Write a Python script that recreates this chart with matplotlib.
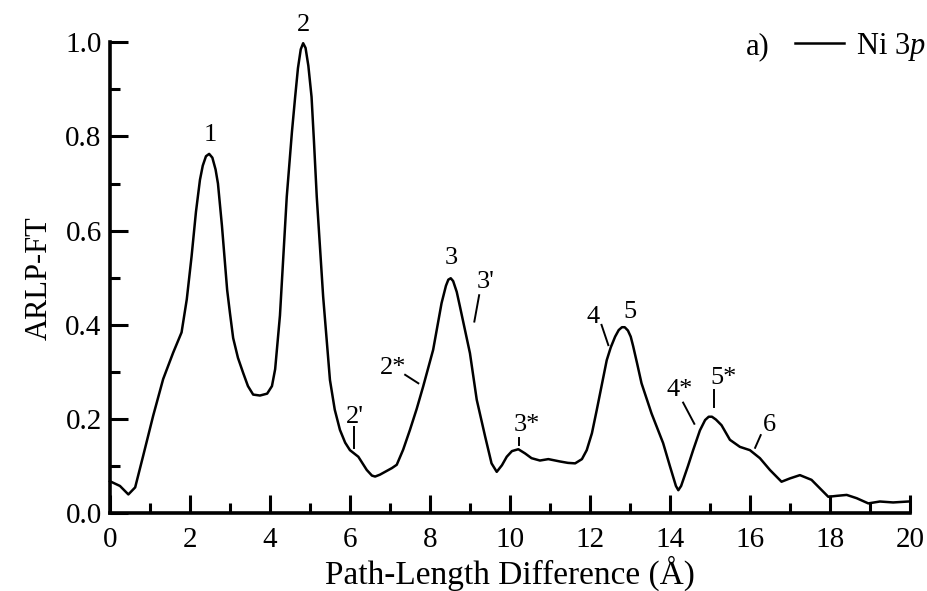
import numpy as np
import matplotlib
matplotlib.use("Agg")
from matplotlib import pyplot as plt
from matplotlib.ticker import MultipleLocator, FormatStrFormatter

plt.rcParams['font.family'] = ['Liberation Serif', 'DejaVu Serif']
plt.rcParams['mathtext.fontset'] = 'custom'
plt.rcParams['mathtext.rm'] = 'Liberation Serif'
plt.rcParams['mathtext.it'] = 'Liberation Serif:italic'

# curve (path-length difference in A, ARLP-FT)
path_len = [0.0, 0.25, 0.46, 0.63, 0.83, 1.08, 1.33, 1.58, 1.79, 1.92,
            2.04, 2.15, 2.25, 2.32, 2.40, 2.48, 2.56, 2.64, 2.70, 2.80,
            2.93, 3.00, 3.08, 3.20, 3.33, 3.45, 3.58, 3.75, 3.93, 4.05,
            4.13, 4.25, 4.42, 4.55, 4.63, 4.70, 4.77, 4.83, 4.89, 4.96,
            5.04, 5.10, 5.17, 5.33, 5.50, 5.62, 5.75, 5.88, 6.00, 6.21,
            6.42, 6.55, 6.63, 6.75, 6.88, 7.05, 7.17, 7.33, 7.50, 7.67,
            7.83, 8.08, 8.29, 8.40, 8.46, 8.52, 8.58, 8.67, 8.75, 9.00,
            9.17, 9.38, 9.54, 9.67, 9.80, 9.92, 10.05, 10.21, 10.38, 10.54,
            10.75, 10.96, 11.25, 11.45, 11.63, 11.80, 11.92, 12.05, 12.17, 12.42,
            12.52, 12.63, 12.72, 12.80, 12.87, 12.95, 13.02, 13.08, 13.18, 13.29,
            13.54, 13.83, 14.00, 14.08, 14.15, 14.21, 14.28, 14.45, 14.58, 14.75,
            14.88, 14.97, 15.05, 15.15, 15.29, 15.50, 15.75, 16.00, 16.25, 16.50,
            16.79, 17.00, 17.25, 17.54, 17.75, 17.96, 18.17, 18.42, 18.67, 18.96,
            19.25, 19.58, 19.96]
arlp_ft = [0.068, 0.058, 0.040, 0.055, 0.122, 0.207, 0.285, 0.341, 0.384, 0.454,
           0.545, 0.640, 0.708, 0.738, 0.758, 0.763, 0.755, 0.730, 0.700, 0.610,
           0.474, 0.425, 0.372, 0.330, 0.298, 0.270, 0.252, 0.250, 0.254, 0.270,
           0.306, 0.420, 0.672, 0.810, 0.884, 0.945, 0.985, 0.998, 0.988, 0.950,
           0.884, 0.790, 0.672, 0.460, 0.283, 0.220, 0.177, 0.150, 0.134, 0.120,
           0.092, 0.080, 0.078, 0.082, 0.088, 0.096, 0.103, 0.135, 0.177, 0.222,
           0.269, 0.347, 0.446, 0.483, 0.496, 0.499, 0.493, 0.470, 0.439, 0.340,
           0.241, 0.163, 0.106, 0.088, 0.102, 0.120, 0.132, 0.136, 0.127, 0.117,
           0.112, 0.115, 0.110, 0.107, 0.106, 0.115, 0.134, 0.170, 0.219, 0.325,
           0.352, 0.375, 0.389, 0.395, 0.395, 0.388, 0.375, 0.355, 0.318, 0.276,
           0.212, 0.149, 0.100, 0.078, 0.058, 0.049, 0.058, 0.100, 0.134, 0.176,
           0.198, 0.205, 0.205, 0.199, 0.187, 0.156, 0.141, 0.134, 0.117, 0.092,
           0.067, 0.074, 0.081, 0.071, 0.053, 0.035, 0.037, 0.039, 0.032, 0.021,
           0.025, 0.023, 0.025]

# peak labels: text, text position, marker line (x0, y0, x1, y1) or None
peak_labels = ['1', '2', '2\'', '2*', '3', '3\'', '3*', '4', '5', '4*', '5*', '6']
label_x = [2.50, 4.83, 6.13, 7.08, 8.53, 9.38, 10.42, 12.07, 13.00, 14.25, 15.33, 16.50]
label_y = [0.803, 1.037, 0.205, 0.308, 0.543, 0.492, 0.187, 0.417, 0.428, 0.262, 0.287, 0.187]
marker_lines = [None, None,
                (6.11, 0.184, 6.11, 0.138),
                (7.38, 0.294, 7.71, 0.276),
                None,
                (9.23, 0.463, 9.11, 0.407),
                (10.22, 0.159, 10.22, 0.145),
                (12.29, 0.400, 12.46, 0.357),
                None,
                (14.33, 0.235, 14.61, 0.190),
                (15.11, 0.262, 15.11, 0.225),
                (16.27, 0.166, 16.13, 0.139)]

fig = plt.figure(figsize=(9.28, 5.91), dpi=100)
ax = fig.add_axes([0.1185, 0.1315, 0.862, 0.797])

ax.plot(path_len, arlp_ft, color='black', lw=1.8, label='Ni 3$\\mathit{p}$',
        clip_on=False, solid_joinstyle='round')

for txt, tx, ty, seg in zip(peak_labels, label_x, label_y, marker_lines):
    ax.text(tx, ty, txt, fontsize=19, ha='center', va='center')
    if seg is not None:
        ax.plot([seg[0], seg[2]], [seg[1], seg[3]], color='black', lw=1.4)

ax.set_xlim(0, 20)
ax.set_ylim(0, 1.0)
ax.xaxis.set_major_locator(MultipleLocator(2))
ax.xaxis.set_minor_locator(MultipleLocator(1))
ax.yaxis.set_major_locator(MultipleLocator(0.2))
ax.yaxis.set_minor_locator(MultipleLocator(0.1))
ax.yaxis.set_major_formatter(FormatStrFormatter('%.1f'))

for s in ['top', 'right']:
    ax.spines[s].set_visible(False)
for s in ['left', 'bottom']:
    ax.spines[s].set_linewidth(2.6)

ax.tick_params(which='major', direction='in', length=13, width=2.2, labelsize=21)
ax.tick_params(axis='x', which='major', pad=10)
ax.tick_params(axis='y', which='major', pad=6)
ax.tick_params(which='minor', direction='in', length=7, width=2.2)

ax.set_xlabel('Path-Length Difference (Å)', fontsize=24, labelpad=2)
ax.set_ylabel('ARLP-FT', fontsize=22, labelpad=8)

fig.legend(loc='center right', bbox_to_anchor=(0.998, 1 - 47 / 591), frameon=False,
           fontsize=22, handlelength=1.6, handletextpad=0.4, borderpad=0, borderaxespad=0)
fig.text(758 / 928, 1 - 47 / 591, 'a)', fontsize=22, ha='center', va='center')

fig.savefig('out.png', dpi=100)
